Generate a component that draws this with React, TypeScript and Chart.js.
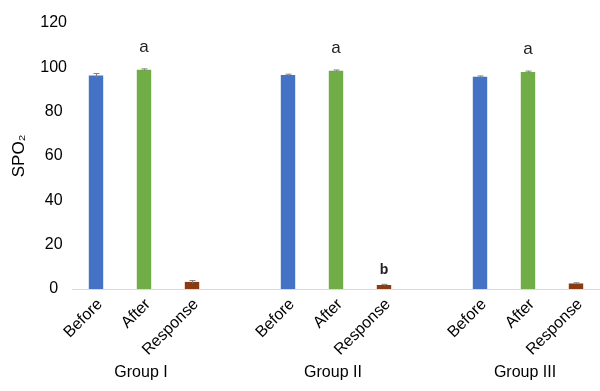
import React, { useEffect, useRef } from "react";
import { Chart, registerables } from "chart.js";

Chart.register(...registerables);

// ---- data ----
const categories = ["Before", "After", "Response", "", "Before", "After", "Response", "", "Before", "After", "Response"];
const groups = ["Group I", "Group II", "Group III"];
const groupMiddleIndex = [1, 5, 9];
const values: (number | null)[] = [96.3, 98.9, 3.2, null, 96.5, 98.5, 1.8, null, 95.7, 97.9, 2.5];
const errors: (number | null)[] = [0.9, 0.4, 0.6, null, 0.4, 0.3, 0.3, null, 0.4, 0.4, 0.3];
const letters = ["", "a", "", "", "", "a", "b", "", "", "a", ""];
const yMin = 0;
const yMax = 120;
const yStep = 20;

// ---- styles ----
const FONT = "'Liberation Sans', Arial, Helvetica, sans-serif";
const colorMap: Record<string, string> = {
  Before: "#4472C4",
  After: "#70AD47",
  Response: "#8A3B12",
};
const letterStyle: Record<string, { weight: string; size: number; gap: number }> = {
  a: { weight: "normal", size: 17, gap: 13 },
  b: { weight: "bold", size: 14, gap: 7 },
};

const overlayPlugin = {
  id: "overlay",
  afterDatasetsDraw(chart: any) {
    const ctx = chart.ctx;
    const x = chart.scales.x;
    const y = chart.scales.y;
    ctx.save();
    // error bars
    ctx.strokeStyle = "#7F7F7F";
    ctx.lineWidth = 1;
    values.forEach((v, i) => {
      const e = errors[i];
      if (v == null || e == null) return;
      const px = Math.round(x.getPixelForValue(i)) + 0.5;
      const top = y.getPixelForValue(v + e);
      const bot = y.getPixelForValue(v - e);
      ctx.beginPath();
      ctx.moveTo(px, top);
      ctx.lineTo(px, bot);
      ctx.moveTo(px - 3, top);
      ctx.lineTo(px + 3, top);
      ctx.stroke();
    });
    // significance letters
    ctx.fillStyle = "#222";
    ctx.textAlign = "center";
    ctx.textBaseline = "bottom";
    letters.forEach((l, i) => {
      const v = values[i];
      if (!l || v == null) return;
      const st = letterStyle[l] || letterStyle.a;
      ctx.font = `${st.weight} ${st.size}px ${FONT}`;
      const px = x.getPixelForValue(i);
      const top = y.getPixelForValue(v + (errors[i] || 0));
      ctx.fillText(l, px, top - st.gap);
    });
    // group labels
    ctx.fillStyle = "#000";
    ctx.font = `16px ${FONT}`;
    ctx.textBaseline = "middle";
    groups.forEach((g, k) => {
      const px = x.getPixelForValue(groupMiddleIndex[k]);
      ctx.fillText(g, px - 3, 373);
    });
    ctx.restore();
  },
};

export default function App() {
  const ref = useRef<HTMLCanvasElement | null>(null);
  useEffect(() => {
    if (!ref.current) return;
    const chart = new Chart(ref.current, {
      type: "bar",
      data: {
        labels: categories,
        datasets: [
          {
            data: values as any,
            backgroundColor: categories.map((c) => colorMap[c] || "transparent"),
            barPercentage: 0.3,
            categoryPercentage: 1,
          },
        ],
      },
      options: {
        responsive: false,
        animation: false,
        layout: { padding: { top: 23, left: 0, right: 0, bottom: 0 } },
        plugins: {
          legend: { display: false },
          tooltip: { enabled: false },
        },
        scales: {
          x: {
            grid: { display: false, drawTicks: false },
            border: { display: true, color: "#D9D9D9", width: 1 },
            ticks: {
              autoSkip: false,
              maxRotation: 45,
              minRotation: 45,
              padding: 6,
              labelOffset: 4,
              color: "#000",
              font: { family: FONT, size: 16 },
            },
            afterFit: (s: any) => {
              s.height = 102;
            },
          },
          y: {
            min: yMin,
            max: yMax,
            grid: { display: false, drawTicks: false },
            border: { display: false },
            ticks: {
              stepSize: yStep,
              padding: 5,
              crossAlign: "center",
              color: "#000",
              font: { family: FONT, size: 16 },
            },
            title: {
              display: true,
              text: "SPO₂",
              color: "#000",
              font: { family: FONT, size: 17 },
              padding: { top: 9, bottom: 0 },
            },
            afterFit: (s: any) => {
              s.width = 72;
            },
          },
        },
      },
      plugins: [overlayPlugin],
    });
    return () => chart.destroy();
  }, []);
  return (
    <div style={{ position: "fixed", left: 0, top: 0, width: 600, height: 391, background: "#fff" }}>
      <canvas ref={ref} width={600} height={391} />
    </div>
  );
}
